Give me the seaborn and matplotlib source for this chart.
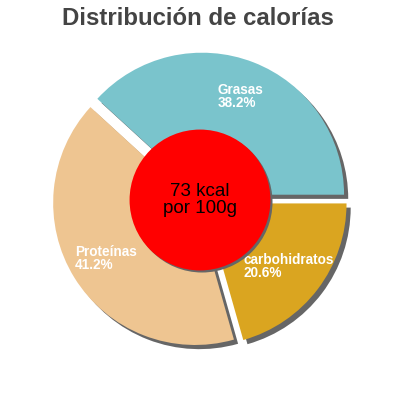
import matplotlib
matplotlib.use("Agg")
import matplotlib.pyplot as plt
import matplotlib.patheffects as pe
import seaborn as sns

# data
categories = ["Grasas", "Proteínas", "carbohidratos"]
percentages = [38.2, 41.2, 20.6]
colors = ["#7AC4CC", "#EEC591", "#DAA520"]
center_text = "73 kcal\npor 100g"
title = "Distribución de calorías"

sns.set_theme(style="white")
plt.rcParams["font.family"] = ["Liberation Sans", "DejaVu Sans"]

fig = plt.figure(figsize=(4, 4), dpi=100)
ax = fig.add_axes([0, 0, 1, 1])

shadow = [pe.SimplePatchShadow(offset=(3, -3), shadow_rgbFace="#666666", alpha=1.0), pe.Normal()]
labels = [f"{c}\n{p}%" for c, p in zip(categories, percentages)]

wedges, texts = ax.pie(
    percentages,
    labels=labels,
    colors=colors,
    explode=[0.04] * len(percentages),
    startangle=0,
    counterclock=True,
    radius=1.0,
    labeldistance=0.74,
    wedgeprops={"linewidth": 0, "path_effects": shadow},
    textprops={"color": "white", "fontsize": 9.8, "fontweight": "bold"},
)
for t in texts:
    t.set_horizontalalignment("center")
    t.set_verticalalignment("center")
    t.set_multialignment("left")
    t.set_linespacing(0.9)

circle = plt.Circle((0, 0), 0.496, facecolor="#FF0000", edgecolor="none", zorder=5,
                    path_effects=[pe.SimplePatchShadow(offset=(1.5, -1.5), shadow_rgbFace="#666666", alpha=1.0), pe.Normal()])
ax.add_patch(circle)
ax.text(0, 0, center_text, ha="center", va="center", fontsize=13.5, color="black", zorder=6, linespacing=1.0)

lim = 200 / 142
ax.set_xlim(-lim, lim)
ax.set_ylim(-lim, lim)
ax.set_aspect("equal")
ax.axis("off")

fig.text(0.495, 1 - 25 / 400, title, ha="center", va="baseline", fontsize=17.3,
         fontweight="bold", color="#444444")

fig.savefig("out.png", dpi=100, facecolor="white")
